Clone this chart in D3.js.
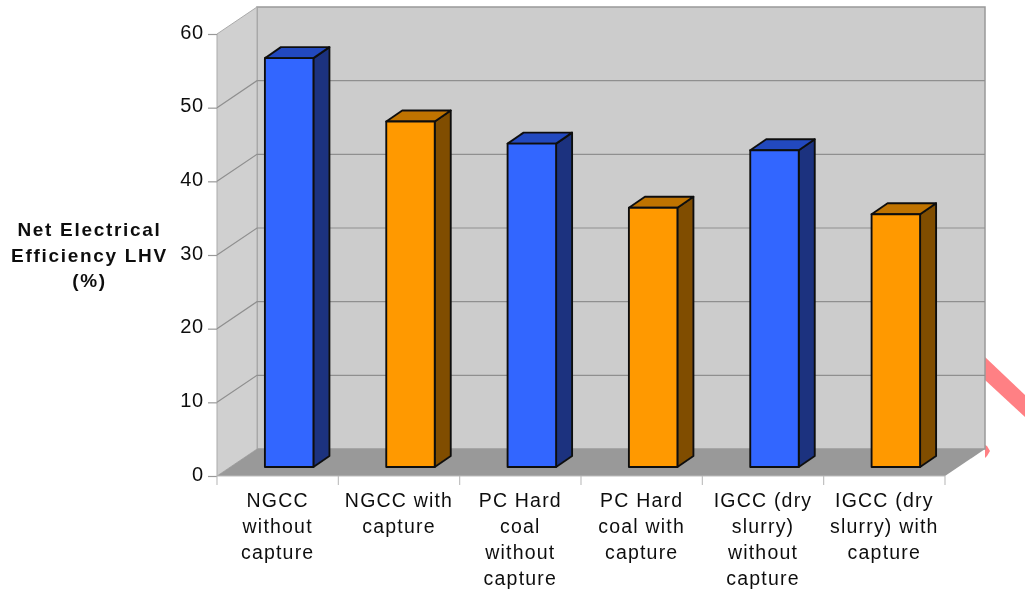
<!DOCTYPE html>
<html>
<head>
<meta charset="utf-8">
<script src="https://d3js.org/d3.v7.min.js"></script>
<style>
html, body { margin: 0; padding: 0; background: #fff; }
svg { display: block; }
text { font-family: "Liberation Sans", Arial, sans-serif; fill: #111; }
</style>
</head>
<body>
<svg id="chart"></svg>
<script>
const categories = [
    "NGCC without capture",
    "NGCC with capture",
    "PC Hard coal without capture",
    "PC Hard coal with capture",
    "IGCC (dry slurry) without capture",
    "IGCC (dry slurry) with capture"
];
const categoryLines = [
    ["NGCC", "without", "capture"],
    ["NGCC with", "capture"],
    ["PC Hard", "coal", "without", "capture"],
    ["PC Hard", "coal with", "capture"],
    ["IGCC (dry", "slurry)", "without", "capture"],
    ["IGCC (dry", "slurry) with", "capture"]
];
const values = [55.5, 46.9, 43.9, 35.2, 43, 34.3];
const groups = ["without", "with", "without", "with", "without", "with"];
const yTicks = [0, 10, 20, 30, 40, 50, 60];
const yTitle = ["Net Electrical", "Efficiency LHV", "(%)"];

const width = 1025, height = 594;
const plot = { left: 217, right: 945, top: 34, bottom: 476 };
const wall = { dx: 40, dy: -27 };      // how far the back wall sits behind the front edge
const barShift = { dx: 11.5, dy: -9 }; // bar front face, relative to the front edge
const barDepth = { dx: 16, dy: -11 };
const barWidth = 48.5;

const colors = {
    without: { front: "#3366ff", side: "#1a337f", top: "#2449bf" },
    with: { front: "#ff9900", side: "#804d00", top: "#bf7300" }
};

const svg = d3.select("#chart").attr("width", width).attr("height", height);

const defs = svg.append("defs");
defs.append("filter").attr("id", "soft")
    .append("feGaussianBlur").attr("stdDeviation", 0.55);

const root = svg.append("g").attr("filter", "url(#soft)");

const x = d3.scaleBand().domain(categories).range([plot.left, plot.right]);
const y = d3.scaleLinear().domain([0, 60]).range([plot.bottom, plot.top]);

const pts = a => a.map(p => p.join(",")).join(" ");

// pink arrow pieces sticking out behind the chart
const accent = root.append("g").attr("fill", "#ff8084");
accent.append("polygon").attr("points", pts([[985, 357], [1025, 395], [1025, 417], [985, 380]]));
accent.append("polygon").attr("points", pts([[985, 445], [987, 446], [990, 451], [987, 456], [985, 458]]));

// walls and floor
const backX0 = plot.left + wall.dx, backX1 = plot.right + wall.dx;
root.append("polygon")
    .attr("points", pts([[backX0, y(60) + wall.dy], [backX1, y(60) + wall.dy], [backX1, y(0) + wall.dy], [backX0, y(0) + wall.dy]]))
    .attr("fill", "#cccccc").attr("stroke", "#999").attr("stroke-width", 1.5);
root.append("polygon")
    .attr("points", pts([[plot.left, y(60)], [backX0, y(60) + wall.dy], [backX0, y(0) + wall.dy], [plot.left, y(0)]]))
    .attr("fill", "#d0d0d0").attr("stroke", "#aaa").attr("stroke-width", 1);
root.append("polygon")
    .attr("points", pts([[plot.left, y(0)], [backX0, y(0) + wall.dy], [backX1, y(0) + wall.dy], [plot.right, y(0)]]))
    .attr("fill", "#999999");

// gridlines, side wall then back wall
const grid = root.append("g").attr("fill", "none").attr("stroke", "#8f8f8f").attr("stroke-width", 1.2);
grid.selectAll("polyline")
    .data(yTicks.slice(1, -1))
    .enter()
    .append("polyline")
    .attr("points", d => pts([[plot.left, y(d)], [backX0, y(d) + wall.dy], [backX1, y(d) + wall.dy]]));

// y axis
const yAxis = root.append("g")
    .attr("transform", `translate(${plot.left},0)`)
    .call(d3.axisLeft(y).tickValues(yTicks).tickSize(9).tickPadding(4).tickFormat(d3.format("d")));
yAxis.select(".domain").attr("stroke", "none");
yAxis.selectAll(".tick line").attr("stroke", "#999").attr("stroke-width", 1.2);
yAxis.selectAll(".tick text").attr("dy", "0.2em").style("font-size", "20px").style("letter-spacing", "0.8px");

// x axis: ticks on band edges, so it is drawn from the band scale by hand
const xAxis = root.append("g").attr("stroke", "#bbb").attr("stroke-width", 1.1);
xAxis.append("line")
    .attr("x1", plot.left).attr("x2", plot.right)
    .attr("y1", plot.bottom).attr("y2", plot.bottom);
xAxis.selectAll("line.tick")
    .data([...categories.map(c => x(c)), plot.right])
    .enter()
    .append("line")
    .attr("class", "tick")
    .attr("x1", d => d).attr("x2", d => d)
    .attr("y1", plot.bottom).attr("y2", plot.bottom + 9);

// bars
const bars = root.selectAll("g.bar")
    .data(categories.map((c, i) => ({ c, v: values[i], g: groups[i] })))
    .enter()
    .append("g")
    .attr("class", "bar")
    .attr("stroke", "#111")
    .attr("stroke-width", 1.9)
    .attr("stroke-linejoin", "round");

const frontX = d => x(d.c) + x.bandwidth() / 2 + barShift.dx - barWidth / 2;
const topY = d => y(d.v) + barShift.dy;
const baseY = () => y(0) + barShift.dy;

bars.append("polygon")
    .attr("fill", d => colors[d.g].side)
    .attr("points", d => {
        const r = frontX(d) + barWidth;
        return pts([[r, topY(d)], [r + barDepth.dx, topY(d) + barDepth.dy], [r + barDepth.dx, baseY() + barDepth.dy], [r, baseY()]]);
    });
bars.append("polygon")
    .attr("fill", d => colors[d.g].top)
    .attr("points", d => {
        const l = frontX(d), r = l + barWidth, t = topY(d);
        return pts([[l, t], [l + barDepth.dx, t + barDepth.dy], [r + barDepth.dx, t + barDepth.dy], [r, t]]);
    });
bars.append("rect")
    .attr("fill", d => colors[d.g].front)
    .attr("x", frontX)
    .attr("y", topY)
    .attr("width", barWidth)
    .attr("height", d => baseY() - topY(d));

// category labels
root.selectAll("text.cat")
    .data(categories)
    .enter()
    .append("text")
    .attr("class", "cat")
    .attr("text-anchor", "middle")
    .style("font-size", "19.5px")
    .style("letter-spacing", "1.2px")
    .each(function (c, i) {
        d3.select(this).selectAll("tspan")
            .data(categoryLines[i])
            .enter()
            .append("tspan")
            .attr("x", x(c) + x.bandwidth() / 2)
            .attr("y", (d, k) => 507 + k * 26)
            .text(d => d);
    });

// y title
root.append("text")
    .attr("text-anchor", "middle")
    .style("font-size", "19px")
    .style("font-weight", "bold")
    .style("letter-spacing", "1.7px")
    .selectAll("tspan")
    .data(yTitle)
    .enter()
    .append("tspan")
    .attr("x", 89.5)
    .attr("y", (d, k) => 236 + k * 25.5)
    .text(d => d);
</script>
</body>
</html>
